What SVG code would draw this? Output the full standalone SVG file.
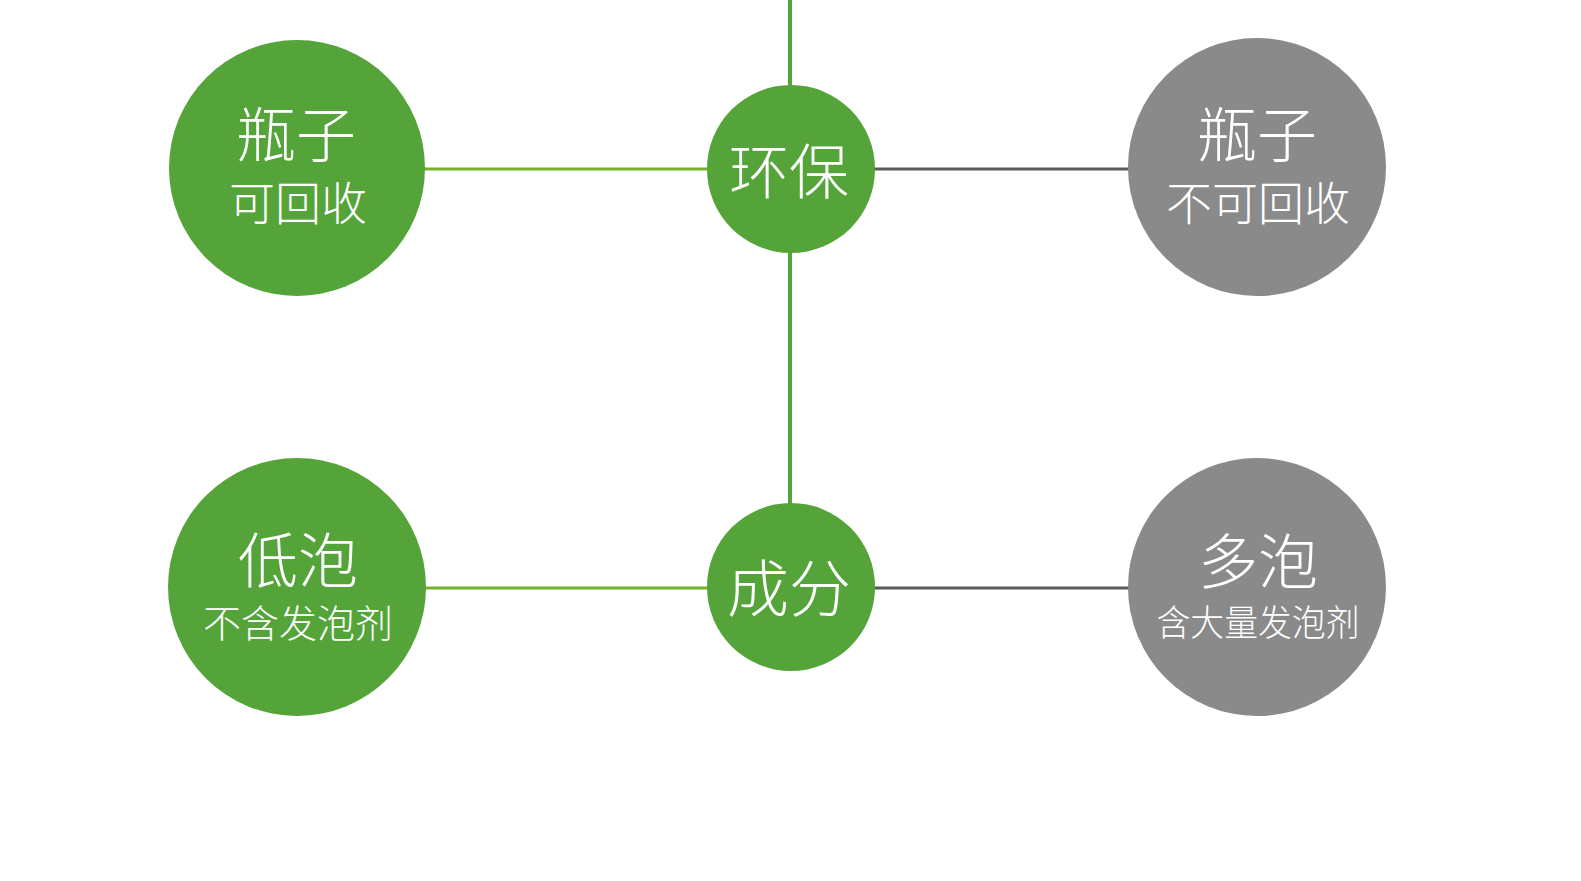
<svg xmlns="http://www.w3.org/2000/svg" width="1581" height="881" viewBox="0 0 1581 881">
<style>
.g{fill:#54a43a}
.y{fill:#8a8a8a}
.t{fill:#ffffff;font-family:"Noto Sans CJK SC","Noto Sans",sans-serif;font-weight:300;text-anchor:middle}
.lg{stroke:#74b22e;stroke-width:3;fill:none}
.lv{stroke:#56a43a;stroke-width:4;fill:none}
.ly{stroke:#5a5a5a;stroke-width:3;fill:none}
</style>
<rect width="1581" height="881" fill="#ffffff"/>
<g id="connectors">
<line class="lv" x1="790" y1="0" x2="790" y2="586"/>
<line class="lg" x1="420" y1="169" x2="710" y2="169"/>
<line class="ly" x1="872" y1="169" x2="1132" y2="169"/>
<line class="lg" x1="420" y1="588" x2="710" y2="588"/>
<line class="ly" x1="872" y1="588" x2="1132" y2="588"/>
</g>
<g id="node-bottle-recyclable">
<circle class="g" cx="297" cy="168" r="128"/>
<text class="t" x="296" y="157" font-size="60">瓶子</text>
<text class="t" x="298" y="220" font-size="46">可回收</text>
</g>
<g id="node-eco">
<circle class="g" cx="791" cy="169" r="84"/>
<text class="t" x="789" y="194" font-size="60">环保</text>
</g>
<g id="node-bottle-nonrecyclable">
<circle class="y" cx="1257" cy="167" r="129"/>
<text class="t" x="1257" y="157" font-size="60">瓶子</text>
<text class="t" x="1258" y="220" font-size="46">不可回收</text>
</g>
<g id="node-lowfoam">
<circle class="g" cx="297" cy="587" r="129"/>
<text class="t" x="298" y="583" font-size="60">低泡</text>
<text class="t" x="298" y="637" font-size="38">不含发泡剂</text>
</g>
<g id="node-ingredient">
<circle class="g" cx="791" cy="587" r="84"/>
<text class="t" x="789" y="612" font-size="62">成分</text>
</g>
<g id="node-highfoam">
<circle class="y" cx="1257" cy="587" r="129"/>
<text class="t" x="1258" y="584" font-size="60">多泡</text>
<text class="t" x="1258" y="636" font-size="36" textLength="203" lengthAdjust="spacingAndGlyphs">含大量发泡剂</text>
</g>
</svg>
